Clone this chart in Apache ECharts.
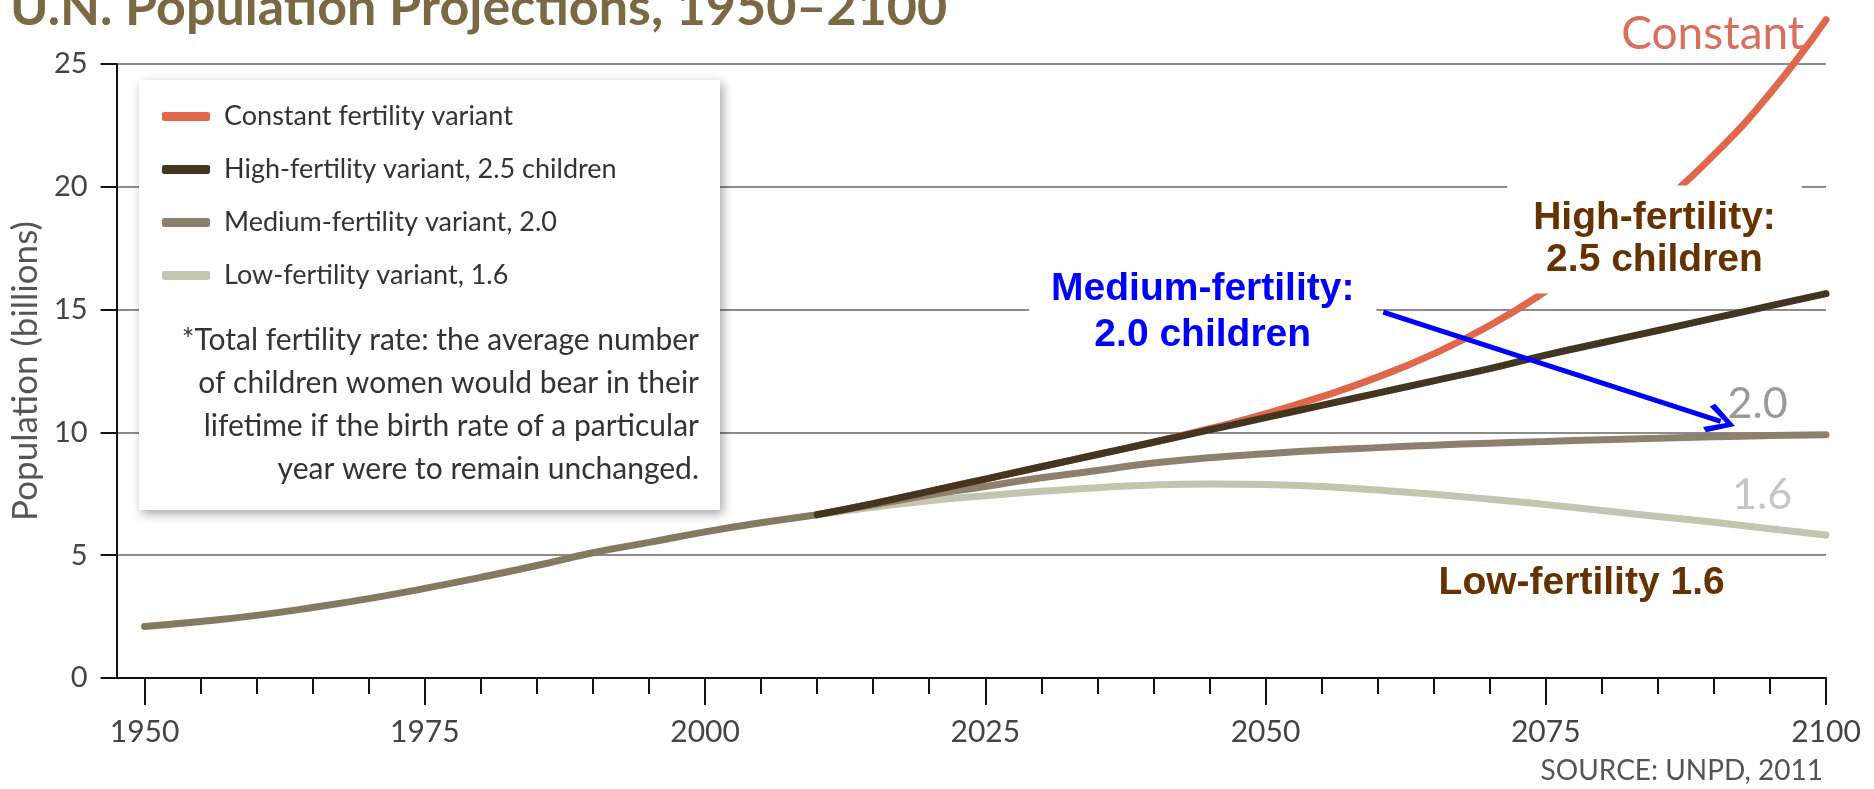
<!DOCTYPE html>
<html>
<head>
<meta charset="utf-8">
<script src="https://cdn.jsdelivr.net/npm/echarts@6/dist/echarts.min.js"></script>
<style>
  html, body { margin: 0; padding: 0; background: #fff; }
  #chart { width: 1874px; height: 789px; }
</style>
</head>
<body>
<div id="chart"></div>
<script>
// years
const histYears = [1950, 1955, 1960, 1965, 1970, 1975, 1980, 1985, 1990, 1995, 2000, 2005, 2010];
const projYears = [2010, 2015, 2020, 2025, 2030, 2035, 2040, 2045, 2050, 2055, 2060, 2065, 2070, 2075, 2080, 2085, 2090, 2095, 2100];

// population, billions
const history = [2.1, 2.3, 2.55, 2.87, 3.23, 3.65, 4.1, 4.58, 5.1, 5.52, 5.95, 6.32, 6.65];
const constant = [6.65, 7.1, 7.6, 8.1, 8.6, 9.1, 9.6, 10.15, 10.75, 11.45, 12.25, 13.2, 14.35, 15.75, 17.35, 19.2, 21.3, 23.8, 26.8];
const high = [6.65, 7.1, 7.6, 8.1, 8.6, 9.1, 9.6, 10.1, 10.6, 11.1, 11.6, 12.1, 12.6, 13.15, 13.65, 14.15, 14.65, 15.15, 15.65];
const medium = [6.65, 7.05, 7.45, 7.8, 8.15, 8.45, 8.75, 8.97, 9.13, 9.27, 9.38, 9.48, 9.56, 9.63, 9.7, 9.76, 9.82, 9.87, 9.9];
const low = [6.65, 6.95, 7.22, 7.42, 7.6, 7.75, 7.86, 7.9, 7.88, 7.8, 7.65, 7.48, 7.28, 7.06, 6.82, 6.58, 6.34, 6.08, 5.82];

const majorTicks = [1950, 1975, 2000, 2025, 2050, 2075, 2100];
const minorTicks = [1955, 1960, 1965, 1970, 1980, 1985, 1990, 1995, 2005, 2010, 2015, 2020,
  2030, 2035, 2040, 2045, 2055, 2060, 2065, 2070, 2080, 2085, 2090, 2095];

const seriesNames = ["Constant fertility variant", "High-fertility variant, 2.5 children",
  "Medium-fertility variant, 2.0", "Low-fertility variant, 1.6"];
const footnote = ["*Total fertility rate: the average number", "of children women would bear in their",
  "lifetime if the birth rate of a particular", "year were to remain unchanged."];

const thin = "Lato, sans-serif";
const bold = "'Liberation Sans', Arial, sans-serif";

const pair = (xs, ys) => xs.map((x, i) => [x, ys[i]]);

const chart = echarts.init(document.getElementById("chart"));

function lineSeries(name, xs, ys, color) {
  return {
    name: name,
    type: "line",
    data: pair(xs, ys),
    smooth: true,
    clip: false,
    showSymbol: false,
    color: color,
    lineStyle: { color: color, width: 7, cap: "round" },
    animation: false,
  };
}

const noteLabel = (color, lh) => ({
  show: true,
  position: "inside",
  color: color,
  fontFamily: bold,
  fontWeight: "bold",
  fontSize: 39,
  lineHeight: lh,
  align: "center",
  verticalAlign: "middle",
  backgroundColor: "#fff",
});

const high_s = lineSeries(seriesNames[1], projYears, high, "#43351f");
high_s.markPoint = {
  symbol: "circle",
  symbolSize: 1,
  itemStyle: { color: "rgba(0,0,0,0)" },
  data: [
    { coord: [2084.7, 17.85], label: Object.assign(noteLabel("#663300", 42),
        { formatter: "High-fertility:\n2.5 children", padding: [12, 26] }) },
    { coord: [2044.4, 14.9], label: Object.assign(noteLabel("#0000ff", 46),
        { formatter: "Medium-fertility:\n2.0 children", padding: [2, 22] }) },
    { coord: [2078.2, 3.85], label: Object.assign(noteLabel("#663300", 44),
        { formatter: "Low-fertility 1.6", padding: [0, 23] }) },
    // label sits above the top of the value axis
    { coord: [2089.9, 24.99], label: { show: true, position: "inside", offset: [0, -30],
        formatter: "Constant", color: "#d9705f", fontFamily: thin, fontSize: 46 } },
    { coord: [2093.9, 11.15], label: { show: true, position: "inside", formatter: "2.0",
        color: "#9a9a9a", fontFamily: thin, fontSize: 43 } },
    { coord: [2094.3, 7.45], label: { show: true, position: "inside", formatter: "1.6",
        color: "#c6c6c6", fontFamily: thin, fontSize: 43 } },
  ],
};
high_s.markLine = {
  silent: true,
  symbol: ["none", "path://M5,0 L10,8 L8.6,9.4 L5,3 L1.4,9.4 L0,8 Z"],
  symbolSize: [30, 30],
  lineStyle: { color: "#0000ff", width: 5, type: "solid" },
  label: { show: false },
  data: [[{ coord: [2060.5, 14.9] }, { coord: [2090.6, 10.45] }]],
};

const yearLabel = (v) => String(v);

chart.setOption({
  backgroundColor: "#fff",
  animation: false,
  grid: { left: 111, right: 48, top: 64, bottom: 111 },
  legend: {
    data: seriesNames,
    orient: "vertical",
    left: 162,
    top: 103,
    padding: 0,
    itemGap: 26,
    itemWidth: 48,
    itemHeight: 9,
    icon: "roundRect",
    selectedMode: false,
    z: 10,
    textStyle: { fontFamily: thin, fontSize: 27, color: "#333", padding: [0, 0, 0, 9] },
  },
  xAxis: [
    {
      type: "value",
      min: 1947.5,
      max: 2100,
      axisLine: { onZero: false, lineStyle: { color: "#111", width: 2 } },
      axisTick: { customValues: majorTicks, length: 27, lineStyle: { color: "#111", width: 2 } },
      axisLabel: { customValues: majorTicks, formatter: yearLabel, margin: 39,
        fontFamily: thin, fontSize: 30, color: "#444" },
      splitLine: { show: false },
    },
    {
      type: "value",
      min: 1947.5,
      max: 2100,
      position: "bottom",
      axisLine: { show: false },
      axisTick: { customValues: minorTicks, length: 16, lineStyle: { color: "#111", width: 2 } },
      axisLabel: { show: false },
      splitLine: { show: false },
    },
  ],
  yAxis: {
    type: "value",
    min: 0,
    max: 25,
    interval: 5,
    name: "Population (billions)",
    nameLocation: "middle",
    nameGap: 57,
    nameRotate: 90,
    nameTextStyle: { fontFamily: thin, fontSize: 35, color: "#555" },
    axisLine: { show: true, lineStyle: { color: "#111", width: 2 } },
    axisTick: { show: true, length: 16, lineStyle: { color: "#111", width: 2 } },
    axisLabel: { margin: 29, fontFamily: thin, fontSize: 29, color: "#444" },
    splitLine: { lineStyle: { color: "#8c8c8c", width: 2 } },
  },
  graphic: [
    {
      type: "text",
      left: 10,
      top: -18,
      z: 5,
      style: { text: "U.N. Population Projections, 1950\u20132100", fill: "#7a6942",
        font: "bold 52px Lato, sans-serif" },
    },
    {
      type: "rect",
      shape: { x: 139, y: 80, width: 581, height: 430 },
      z: 3,
      style: { fill: "#fff", shadowBlur: 10, shadowOffsetX: 3, shadowOffsetY: 4,
        shadowColor: "rgba(0,0,0,0.35)" },
    },
    ...footnote.map((t, i) => ({
      type: "text",
      z: 5,
      x: 699,
      y: 340 + i * 43,
      style: { text: t, fill: "#333", font: "30px " + thin, textAlign: "right", textVerticalAlign: "middle" },
    })),
    {
      type: "text",
      z: 5,
      x: 1823,
      y: 771,
      style: { text: "SOURCE: UNPD, 2011", fill: "#555", font: "28px " + thin,
        textAlign: "right", textVerticalAlign: "middle" },
    },
  ],
  series: [
    lineSeries("history", histYears, history, "#85795f"),
    lineSeries(seriesNames[3], projYears, low, "#c3c6ae"),
    lineSeries(seriesNames[2], projYears, medium, "#8e806c"),
    lineSeries(seriesNames[0], projYears, constant, "#e0674a"),
    high_s,
  ],
});
</script>
</body>
</html>
